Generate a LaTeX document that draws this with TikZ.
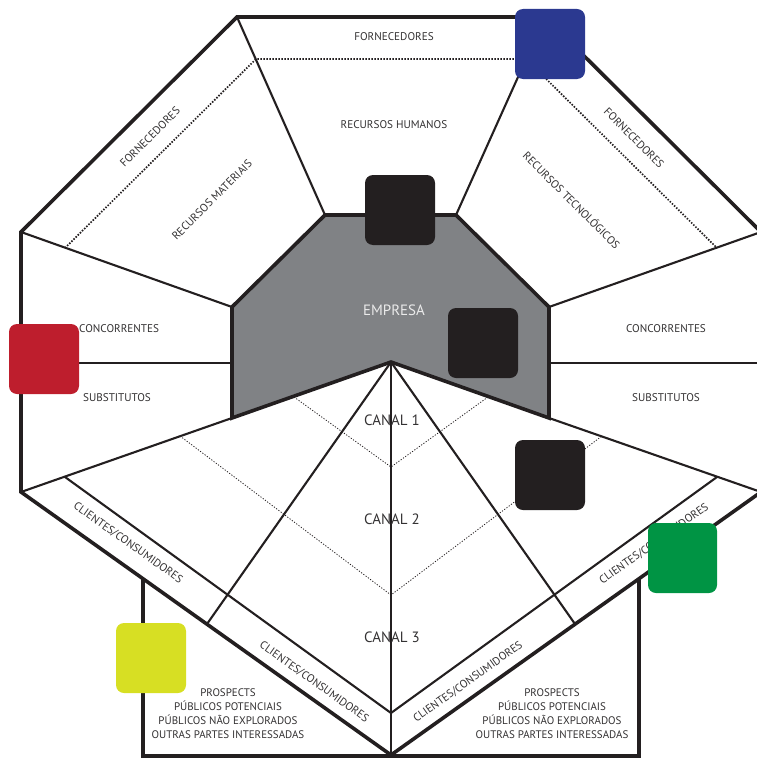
\documentclass[tikz,border=0pt]{standalone}
\usepackage{fontspec}
\setmainfont{PT Sans}
\definecolor{ink}{HTML}{231F20}
\definecolor{txt}{HTML}{333132}
\definecolor{graybox}{HTML}{808285}
\definecolor{sqblue}{HTML}{2B3990}
\definecolor{sqred}{HTML}{BE1E2D}
\definecolor{sqgreen}{HTML}{009444}
\definecolor{sqyellow}{HTML}{D7DF23}
\begin{document}
\begin{tikzpicture}[x=1bp,y=-1bp,
  thickline/.style={line width=3.6bp, draw=ink, line join=miter},
  thinline/.style={line width=2.1bp, draw=ink},
  dotbig/.style={line width=1.7bp, draw=ink, dash pattern=on 1.5bp off 1.5bp},
  dotsmall/.style={line width=0.8bp, draw=ink, dash pattern=on 1.2bp off 1.6bp},
  sqbox/.style={rounded corners=8bp, draw=none},
  lab/.style={text=txt, font=\fontsize{11.2}{13}\selectfont, inner sep=0pt},
  biglab/.style={text=txt, font=\fontsize{15}{18}\selectfont, inner sep=0pt},
  stack/.style={text=txt, font=\fontsize{11}{14}\selectfont, inner sep=0pt, align=center}
]
\useasboundingbox (0,0) rectangle (757,758);
\clip (0,0) rectangle (757,758);
% key points
\coordinate (TL) at (237,17);
\coordinate (TR) at (545,17);
\coordinate (RU) at (761,232);
\coordinate (RL) at (761,492);
\coordinate (BOT) at (391,755);
\coordinate (LL) at (21,492);
\coordinate (LU) at (21,232);
\coordinate (E1) at (325,215);
\coordinate (E2) at (456,215);
\coordinate (E3) at (549,307);
\coordinate (E4) at (549,418);
\coordinate (APEX) at (391,362);
\coordinate (E6) at (232,418);
\coordinate (E7) at (232,307);
% dotted lines, top
\draw[dotbig] (65,248) -- (256,59) -- (526,59) -- (717,248);
% dotted lines, channels
\draw[dotsmall] (294,397) -- (391,467) -- (488,397);
\draw[dotsmall] (180,436) -- (391,595) -- (602,436);
% spokes
\draw[thinline] (TL) -- (E1);
\draw[thinline] (TR) -- (E2);
\draw[thinline] (LU) -- (E7);
\draw[thinline] (RU) -- (E3);
\draw[thinline] (21,363) -- (232,363);
\draw[thinline] (549,363) -- (761,363);
\draw[thinline] (LL) -- (E6);
\draw[thinline] (RL) -- (E4);
\draw[thinline] (APEX) -- (BOT);
\draw[thinline] (APEX) -- (207,624);
\draw[thinline] (APEX) -- (575,624);
% band inner line
\draw[thinline] (65,477) -- (391,713) -- (717,477);
% empresa
\draw[thickline, fill=graybox] (E1) -- (E2) -- (E3) -- (E4) -- (APEX) -- (E6) -- (E7) -- cycle;
% outer boundary
\draw[thickline] (TL) -- (TR) -- (RU) -- (RL) -- (BOT) -- (LL) -- (LU) -- cycle;
% prospect boxes
\draw[thickline] (143,579) -- (143,756.2) -- (639,756.2) -- (639,579);
% texts
\node[lab] (fornTop) at (394,37) {FORNECEDORES};
\node[lab] (rh) at (394,125) {RECURSOS HUMANOS};
\node[lab, rotate=45] (fornL) at (150,137) {FORNECEDORES};
\node[lab, rotate=45] (rm) at (212,200) {RECURSOS MATERIAIS};
\node[lab, rotate=-45] (fornR) at (634,138) {FORNECEDORES};
\node[lab, rotate=-45] (rt) at (572,200) {RECURSOS TECNOLÓGICOS};
\node[text=white!92!black, font=\fontsize{15}{17}\selectfont, inner sep=0pt] (emp) at (394,310) {EMPRESA};
\node[lab, anchor=west] (concL) at (79,329) {CONCORRENTES};
\node[lab] (subL) at (117,398) {SUBSTITUTOS};
\node[lab] (concR) at (666,329) {CONCORRENTES};
\node[lab] (subR) at (666,398) {SUBSTITUTOS};
\node[biglab] (c1) at (392,420) {CANAL 1};
\node[biglab] (c2) at (392,519) {CANAL 2};
\node[biglab] (c3) at (392,637) {CANAL 3};
\node[lab, rotate=-35.4] (cliLU) at (128,543) {CLIENTES/CONSUMIDORES};
\node[lab, rotate=-35.4] (cliLL) at (314,682) {CLIENTES/CONSUMIDORES};
\node[lab, rotate=35.4] (cliRL) at (468,682) {CLIENTES/CONSUMIDORES};
\node[lab, rotate=35.4] (cliRU) at (654,544) {CLIENTES/CONSUMIDORES};
\node[stack] (prosL) at (228,713.5) {PROSPECTS\\PÚBLICOS POTENCIAIS\\PÚBLICOS NÃO EXPLORADOS\\OUTRAS PARTES INTERESSADAS};
\node[stack] (prosR) at (552,713.5) {PROSPECTS\\PÚBLICOS POTENCIAIS\\PÚBLICOS NÃO EXPLORADOS\\OUTRAS PARTES INTERESSADAS};
% squares
\fill[sqbox, sqblue] (515,9) rectangle (585,79);
\fill[sqbox, sqred] (9,324) rectangle (79,394);
\fill[sqbox, ink] (365,175) rectangle (435,245);
\fill[sqbox, ink] (448,308) rectangle (518,378);
\fill[sqbox, ink] (515,440) rectangle (585,510);
\fill[sqbox, sqgreen] (648,523) rectangle (717,593);
\fill[sqbox, sqyellow] (116,623) rectangle (186,693);
\end{tikzpicture}
\end{document}
